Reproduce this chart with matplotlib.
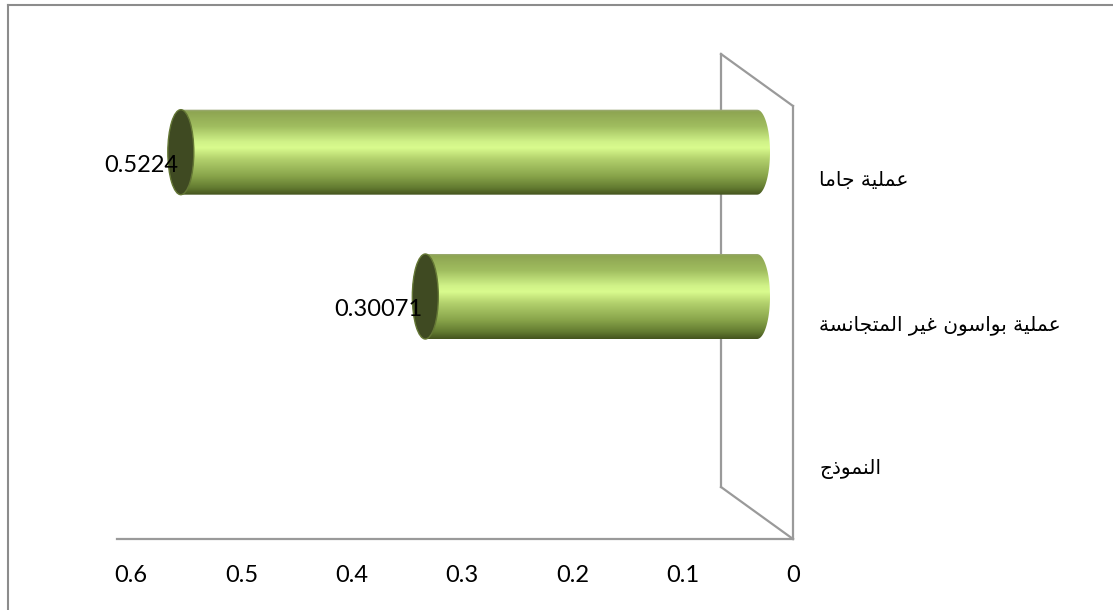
import matplotlib
matplotlib.use("Agg")
import matplotlib.pyplot as plt
import numpy as np
from matplotlib import transforms as mtrans
from matplotlib.patches import Ellipse, PathPatch
from matplotlib.path import Path
from matplotlib.lines import Line2D
from matplotlib.colors import LinearSegmentedColormap

# ---------------- data ----------------
categories = ["عملية جاما", "عملية بواسون غير المتجانسة", "النموذج"]
values = [0.5224, 0.30071, None]
value_labels = ["0.5224", "0.30071", ""]
xtick_values = [0, 0.1, 0.2, 0.3, 0.4, 0.5, 0.6]
xtick_labels = ["0", "0.1", "0.2", "0.3", "0.4", "0.5", "0.6"]

# ---------------- simple Arabic shaping (presentation forms) ----------------
FORMS = {
    'ء': ('\uFE80', None, None, None),
    'آ': ('\uFE81', '\uFE82', None, None),
    'أ': ('\uFE83', '\uFE84', None, None),
    'ؤ': ('\uFE85', '\uFE86', None, None),
    'إ': ('\uFE87', '\uFE88', None, None),
    'ئ': ('\uFE89', '\uFE8A', '\uFE8B', '\uFE8C'),
    'ا': ('\uFE8D', '\uFE8E', None, None),
    'ب': ('\uFE8F', '\uFE90', '\uFE91', '\uFE92'),
    'ة': ('\uFE93', '\uFE94', None, None),
    'ت': ('\uFE95', '\uFE96', '\uFE97', '\uFE98'),
    'ث': ('\uFE99', '\uFE9A', '\uFE9B', '\uFE9C'),
    'ج': ('\uFE9D', '\uFE9E', '\uFE9F', '\uFEA0'),
    'ح': ('\uFEA1', '\uFEA2', '\uFEA3', '\uFEA4'),
    'خ': ('\uFEA5', '\uFEA6', '\uFEA7', '\uFEA8'),
    'د': ('\uFEA9', '\uFEAA', None, None),
    'ذ': ('\uFEAB', '\uFEAC', None, None),
    'ر': ('\uFEAD', '\uFEAE', None, None),
    'ز': ('\uFEAF', '\uFEB0', None, None),
    'س': ('\uFEB1', '\uFEB2', '\uFEB3', '\uFEB4'),
    'ش': ('\uFEB5', '\uFEB6', '\uFEB7', '\uFEB8'),
    'ص': ('\uFEB9', '\uFEBA', '\uFEBB', '\uFEBC'),
    'ض': ('\uFEBD', '\uFEBE', '\uFEBF', '\uFEC0'),
    'ط': ('\uFEC1', '\uFEC2', '\uFEC3', '\uFEC4'),
    'ظ': ('\uFEC5', '\uFEC6', '\uFEC7', '\uFEC8'),
    'ع': ('\uFEC9', '\uFECA', '\uFECB', '\uFECC'),
    'غ': ('\uFECD', '\uFECE', '\uFECF', '\uFED0'),
    'ف': ('\uFED1', '\uFED2', '\uFED3', '\uFED4'),
    'ق': ('\uFED5', '\uFED6', '\uFED7', '\uFED8'),
    'ك': ('\uFED9', '\uFEDA', '\uFEDB', '\uFEDC'),
    'ل': ('\uFEDD', '\uFEDE', '\uFEDF', '\uFEE0'),
    'م': ('\uFEE1', '\uFEE2', '\uFEE3', '\uFEE4'),
    'ن': ('\uFEE5', '\uFEE6', '\uFEE7', '\uFEE8'),
    'ه': ('\uFEE9', '\uFEEA', '\uFEEB', '\uFEEC'),
    'و': ('\uFEED', '\uFEEE', None, None),
    'ى': ('\uFEEF', '\uFEF0', None, None),
    'ي': ('\uFEF1', '\uFEF2', '\uFEF3', '\uFEF4'),
}


def dual(c):
    return c in FORMS and FORMS[c][2] is not None


def joins(c):
    return c in FORMS and FORMS[c][1] is not None


def shape_arabic(text):
    out = []
    n = len(text)
    for k, c in enumerate(text):
        if c not in FORMS:
            out.append(c)
            continue
        prev = text[k - 1] if k > 0 else ''
        nxt = text[k + 1] if k < n - 1 else ''
        jp = dual(prev) and joins(c)
        jn = dual(c) and (nxt in FORMS and joins(nxt))
        iso, fin, ini, med = FORMS[c]
        if jp and jn:
            out.append(med)
        elif jp:
            out.append(fin)
        elif jn:
            out.append(ini)
        else:
            out.append(iso)
    return ''.join(out)[::-1]


# ---------------- figure ----------------
W, H = 1113, 610
fig = plt.figure(figsize=(W / 100, H / 100), dpi=100)
fig.patch.set_facecolor("white")

ax = fig.add_axes([117 / W, (H - 539) / H, 676 / W, 433 / H])
ax.set_facecolor("none")
ax.set_xlim(0.6129, 0)
ax.set_ylim(len(categories) - 0.5, -0.5)

line_col = "#9a9a9a"
for s in ("top", "left"):
    ax.spines[s].set_visible(False)
for s in ("bottom", "right"):
    ax.spines[s].set_color(line_col)
    ax.spines[s].set_linewidth(1.6)

# depth transforms (3-D look)
DX, DY = -72, 52
back_tr = mtrans.offset_copy(ax.transData, fig=fig, x=DX, y=DY, units="dots")
mid_tr = mtrans.offset_copy(ax.transData, fig=fig, x=DX / 2, y=DY / 2, units="dots")

ylo, yhi = -0.5, len(categories) - 0.5
ax.plot([0, 0], [ylo, yhi], transform=back_tr, color=line_col, lw=1.6, clip_on=False)
for yy in (ylo, yhi):
    pf = ax.transData.transform((0, yy))
    pb = back_tr.transform((0, yy))
    ax.add_line(Line2D([pf[0], pb[0]], [pf[1], pb[1]], transform=mtrans.IdentityTransform(),
                       color=line_col, lw=1.6, clip_on=False))

# gradient for cylinders
stops = [(0.0, "#a4ad88"), (0.03, "#8ea552"), (0.2, "#a0bd5f"), (0.38, "#d0f288"),
         (0.45, "#d9fb8e"), (0.58, "#b3d16d"), (0.78, "#88a44a"), (0.92, "#627a30"),
         (1.0, "#44531e")]
cmap = LinearSegmentedColormap.from_list("cyl", stops)
grad = cmap(np.linspace(0, 1, 256))[:, :3].reshape(256, 1, 3)

h = 0.2945          # half bar thickness (category units)
cw = 13 / 1103.0    # half width of end ellipse (value units)

for i, v in enumerate(values):
    if v is None:
        continue
    t = np.linspace(-np.pi / 2, np.pi / 2, 60)
    arc = np.column_stack([-cw * np.cos(t), i + h * np.sin(t)])
    verts = np.vstack([[v, i - h], arc, [v, i + h], [v, i - h]])
    codes = [Path.MOVETO] + [Path.LINETO] * (len(verts) - 2) + [Path.CLOSEPOLY]
    body = Path(verts, codes)
    im = ax.imshow(grad, extent=(v, -cw, i + h, i - h), transform=mid_tr,
                   aspect="auto", interpolation="bilinear", zorder=2)
    clip = PathPatch(body, transform=mid_tr, fc="none", ec="none")
    im.set_clip_path(clip)
    cap = Ellipse((v, i), 2 * cw, 2 * h, transform=mid_tr, fc="#3f4a22",
                  ec="#647735", lw=1.0, zorder=3)
    ax.add_patch(cap)
    lab_tr = mtrans.offset_copy(ax.transData, fig=fig, x=DX / 2 - 3, y=DY / 2 - 13, units="dots")
    ax.text(v, i, value_labels[i], transform=lab_tr, ha="right", va="center",
            fontsize=17, family=["Lato", "DejaVu Sans"], color="black", zorder=5)

ax.set_xlim(0.6129, 0)
ax.set_ylim(len(categories) - 0.5, -0.5)

ax.set_xticks(xtick_values)
ax.set_xticklabels(xtick_labels, fontsize=17, family=["Lato", "DejaVu Sans"])
ax.tick_params(axis="x", length=0, pad=19)

ax.yaxis.tick_right()
ax.set_yticks(range(len(categories)))
ax.set_yticklabels([shape_arabic(c) for c in categories], fontsize=14.5, family="DejaVu Sans")
ax.tick_params(axis="y", length=0, pad=19)

# outer frame
fig.add_artist(Line2D([8 / W, 8 / W], [0, 1 - 5 / H], transform=fig.transFigure,
                      color="#8c8c8c", lw=1.5))
fig.add_artist(Line2D([8 / W, 1], [1 - 5 / H, 1 - 5 / H], transform=fig.transFigure,
                      color="#8c8c8c", lw=1.5))

fig.savefig("out.png", dpi=100)
